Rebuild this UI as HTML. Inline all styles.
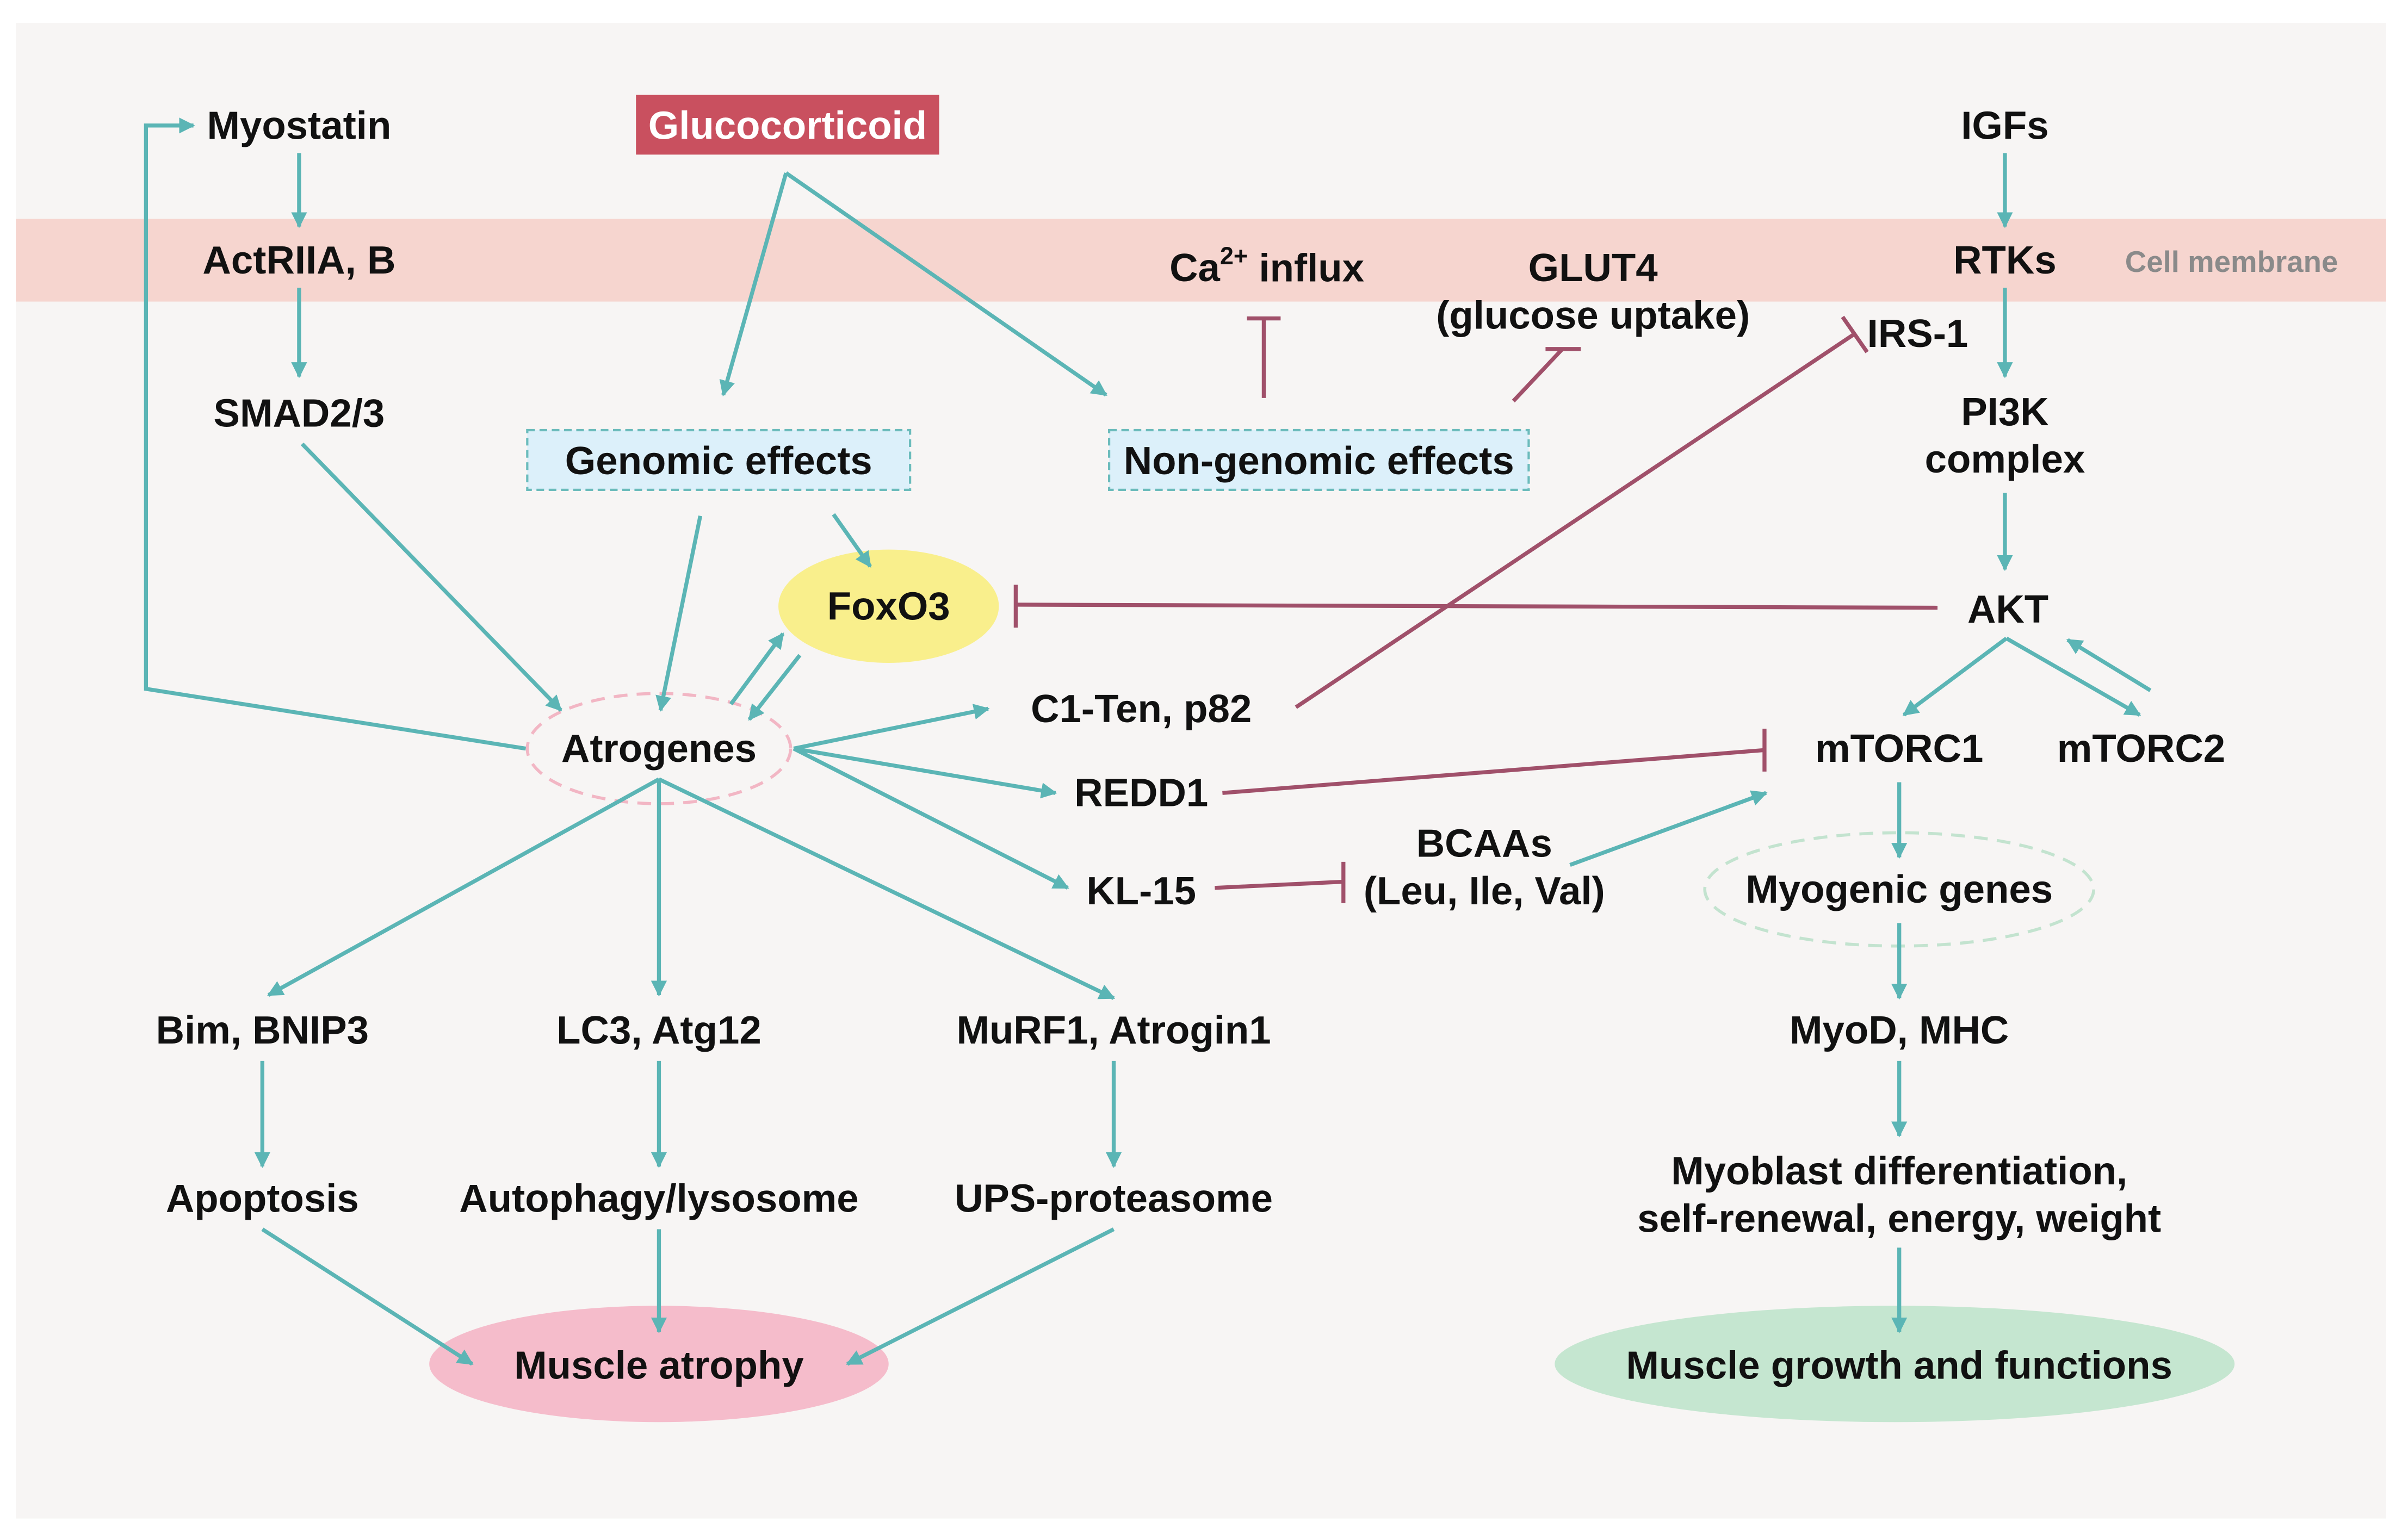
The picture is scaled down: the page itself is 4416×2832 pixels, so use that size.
<!DOCTYPE html>
<html><head><meta charset="utf-8"><style>
html,body{margin:0;padding:0;background:#fff;}
svg{display:block;}
text{font-family:"Liberation Sans",Arial,sans-serif;font-weight:bold;fill:#111;text-anchor:middle;dominant-baseline:central;font-size:25.8px;}
</style></head><body>
<svg width="4416" height="2832" viewBox="0 0 1568 1006" xmlns="http://www.w3.org/2000/svg">
<defs>
<marker id="a" viewBox="0 0 10 10" refX="9" refY="5" markerWidth="4" markerHeight="4" orient="auto" markerUnits="strokeWidth"><path d="M0,0L10,5L0,10z" fill="#5bb5b5"/></marker>
</defs>
<rect x="0" y="0" width="1568" height="1006" fill="#fff"/>
<rect x="10" y="15" width="1548" height="977" fill="#f7f5f4"/>
<rect x="10" y="143" width="1548" height="54" fill="#f6d5cf"/>

<rect x="415" y="62" width="198" height="39" fill="#c9505f"/>
<rect x="344" y="281" width="250" height="39" fill="#dcf0fa" stroke="#6cbcbc" stroke-width="1.5" stroke-dasharray="5,3"/>
<rect x="724" y="281" width="274" height="39" fill="#dcf0fa" stroke="#6cbcbc" stroke-width="1.5" stroke-dasharray="5,3"/>
<ellipse cx="580" cy="396" rx="72" ry="37" fill="#f9ef8c"/>
<ellipse cx="430" cy="489" rx="86" ry="36" fill="none" stroke="#f2b6c4" stroke-width="2" stroke-dasharray="9,6"/>
<ellipse cx="1240" cy="581" rx="127" ry="37" fill="none" stroke="#c3e3cf" stroke-width="2" stroke-dasharray="9,6"/>
<ellipse cx="430" cy="891" rx="150" ry="38" fill="#f5bccb"/>
<ellipse cx="1237" cy="891" rx="222" ry="38" fill="#c5e6d0"/>

<g stroke="#5bb5b5" stroke-width="2.6" fill="none" marker-end="url(#a)">
<line x1="195" y1="100" x2="195" y2="148"/>
<line x1="195" y1="188" x2="195" y2="246"/>
<line x1="513" y1="113" x2="472" y2="258"/>
<line x1="513" y1="113" x2="722" y2="258"/>
<line x1="544" y1="336" x2="568" y2="370"/>
<line x1="457" y1="337" x2="431" y2="464"/>
<line x1="197" y1="290" x2="366" y2="464"/>
<line x1="477" y1="460" x2="511" y2="414"/>
<line x1="522" y1="428" x2="489" y2="470"/>
<polyline points="343,489 95,450 95,82 126,82"/>
<line x1="518" y1="489" x2="645" y2="463"/>
<line x1="518" y1="489" x2="689" y2="518"/>
<line x1="518" y1="489" x2="697" y2="580"/>
<line x1="1025" y1="565" x2="1153" y2="518"/>
<line x1="1309" y1="100" x2="1309" y2="148"/>
<line x1="1309" y1="188" x2="1309" y2="246"/>
<line x1="1309" y1="322" x2="1309" y2="372"/>
<line x1="1310" y1="417" x2="1243" y2="467"/>
<line x1="1310" y1="417" x2="1397" y2="467"/>
<line x1="1404" y1="451" x2="1350" y2="418"/>
<line x1="1240" y1="511" x2="1240" y2="560"/>
<line x1="1240" y1="603" x2="1240" y2="652"/>
<line x1="1240" y1="693" x2="1240" y2="742"/>
<line x1="1240" y1="815" x2="1240" y2="870"/>
<line x1="430" y1="509" x2="175" y2="650"/>
<line x1="430" y1="509" x2="430" y2="650"/>
<line x1="430" y1="509" x2="727" y2="652"/>
<line x1="171" y1="693" x2="171" y2="762"/>
<line x1="430" y1="693" x2="430" y2="762"/>
<line x1="727" y1="693" x2="727" y2="762"/>
<line x1="171" y1="803" x2="308" y2="891"/>
<line x1="430" y1="803" x2="430" y2="870"/>
<line x1="727" y1="803" x2="553" y2="891"/>
</g>

<g stroke="#a0506a" stroke-width="2.6" fill="none">
<line x1="825" y1="260" x2="825" y2="208"/><line x1="814" y1="208" x2="836" y2="208"/>
<line x1="988" y1="262" x2="1020" y2="228"/><line x1="1009" y1="228" x2="1032" y2="228"/>
<line x1="1265" y1="397" x2="663" y2="395"/><line x1="663" y1="382" x2="663" y2="410"/>
<line x1="846" y1="462" x2="1211" y2="218"/><line x1="1203" y1="207" x2="1219" y2="230"/>
<line x1="798" y1="518" x2="1152" y2="490"/><line x1="1152" y1="476" x2="1152" y2="504"/>
<line x1="793" y1="580" x2="877" y2="576"/><line x1="877" y1="563" x2="877" y2="590"/>
</g>

<text x="514" y="82" style="fill:#fff">Glucocorticoid</text>
<text x="469" y="301">Genomic effects</text>
<text x="861" y="301">Non-genomic effects</text>
<text x="580" y="396">FoxO3</text>
<text x="430" y="489">Atrogenes</text>
<text x="1240" y="581">Myogenic genes</text>
<text x="430" y="892">Muscle atrophy</text>
<text x="1240" y="892">Muscle growth and functions</text>

<text x="195" y="82">Myostatin</text>
<text x="195" y="170">ActRIIA, B</text>
<text x="195" y="270">SMAD2/3</text>
<text x="827" y="175">Ca<tspan font-size="16" dy="-8">2+</tspan><tspan dy="8"> influx</tspan></text>
<text x="1040" y="175">GLUT4</text>
<text x="1040" y="206">(glucose uptake)</text>
<text x="1309" y="82">IGFs</text>
<text x="1309" y="170">RTKs</text>
<text x="1457" y="171" style="fill:#8a8a8a;font-size:19.4px">Cell membrane</text>
<text x="1252" y="218">IRS-1</text>
<text x="1309" y="269">PI3K</text>
<text x="1309" y="300">complex</text>
<text x="1311" y="398">AKT</text>
<text x="1240" y="489">mTORC1</text>
<text x="1398" y="489">mTORC2</text>
<text x="745" y="463">C1-Ten, p82</text>
<text x="745" y="518">REDD1</text>
<text x="745" y="582">KL-15</text>
<text x="969" y="551">BCAAs</text>
<text x="969" y="582">(Leu, Ile, Val)</text>
<text x="1240" y="673">MyoD, MHC</text>
<text x="1240" y="765">Myoblast differentiation,</text>
<text x="1240" y="796">self-renewal, energy, weight</text>
<text x="171" y="673">Bim, BNIP3</text>
<text x="430" y="673">LC3, Atg12</text>
<text x="727" y="673">MuRF1, Atrogin1</text>
<text x="171" y="783">Apoptosis</text>
<text x="430" y="783">Autophagy/lysosome</text>
<text x="727" y="783">UPS-proteasome</text>
</svg>
</body></html>
